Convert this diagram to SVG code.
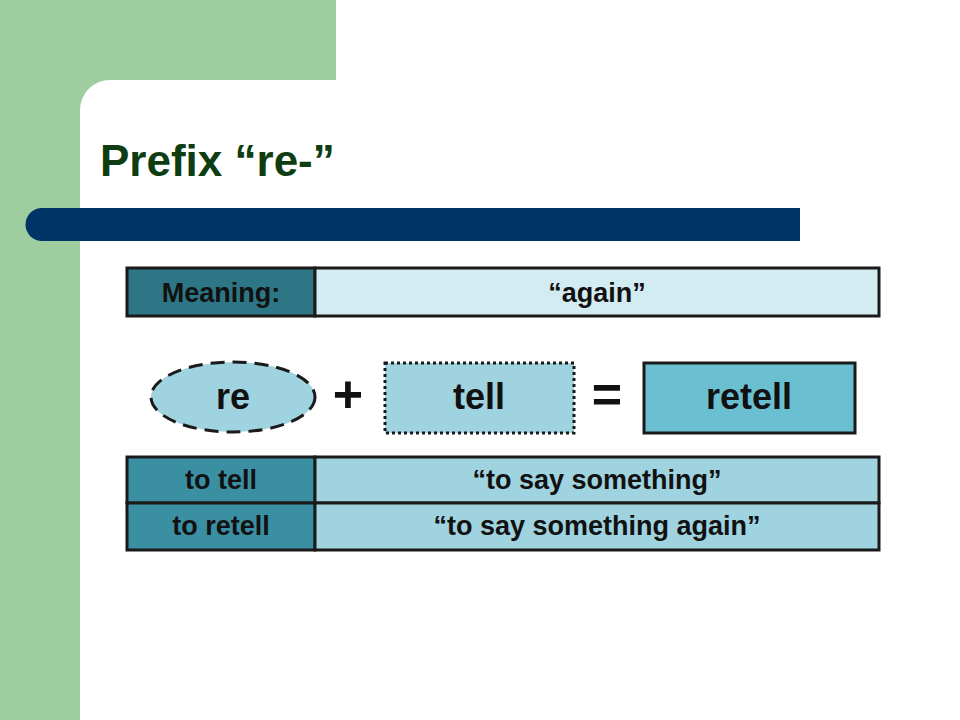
<svg xmlns="http://www.w3.org/2000/svg" width="960" height="720" viewBox="0 0 960 720">
<style>
.t{font-family:"Liberation Sans Narrow","Liberation Sans",Arial,sans-serif;font-weight:bold;fill:#111;text-anchor:middle}
.b{stroke:#1a1a1a;stroke-width:3}
</style>
<rect width="960" height="720" fill="#fff"/>
<g id="background">
<rect x="0" y="0" width="80" height="720" fill="#9ecda0"/>
<rect x="0" y="0" width="336" height="80" fill="#9ecda0"/>
<path d="M80 80 H110 A30 30 0 0 0 80 110 Z" fill="#9ecda0"/>
<path d="M42 208 H800 V241 H42 A16.5 16.5 0 0 1 42 208 Z" fill="#003366"/>
<text x="100" y="176" style="font-family:'Liberation Sans',Arial,sans-serif;font-weight:bold;font-size:44px;fill:#0f3d12">Prefix “re-”</text>
</g>
<g id="meaning">
<rect x="127" y="268" width="188" height="48" fill="#2e7685" class="b"/>
<rect x="315" y="268" width="564" height="48" fill="#d3ecf1" class="b"/>
<text class="t" x="221" y="302" font-size="27">Meaning:</text>
<text class="t" x="597" y="302" font-size="27" font-weight="normal">“again”</text>
</g>
<g id="re">
<ellipse cx="233" cy="397" rx="82" ry="35" fill="#9fd3df" stroke="#1a1a1a" stroke-width="3" stroke-dasharray="14 8"/>
<text class="t" x="233" y="409" font-size="36">re</text>
</g>
<g id="plus"><text class="t" x="348" y="412" font-size="52" font-weight="normal">+</text></g>
<g id="tell">
<rect x="385" y="363" width="189" height="70" fill="#9fd3df" stroke="#1a1a1a" stroke-width="3" stroke-dasharray="3 3"/>
<text class="t" x="479" y="409" font-size="36">tell</text>
</g>
<g id="equals"><text class="t" x="607" y="412" font-size="52" font-weight="normal">=</text></g>
<g id="retell">
<rect x="644" y="363" width="211" height="70" fill="#6ac0d1" class="b"/>
<text class="t" x="749" y="409" font-size="36">retell</text>
</g>
<g id="table">
<rect x="127" y="457" width="188" height="46" fill="#3b8fa3" class="b"/>
<rect x="315" y="457" width="564" height="46" fill="#9fd3df" class="b"/>
<rect x="127" y="503" width="188" height="47" fill="#3b8fa3" class="b"/>
<rect x="315" y="503" width="564" height="47" fill="#9fd3df" class="b"/>
<text class="t" x="221" y="489" font-size="27">to tell</text>
<text class="t" x="597" y="489" font-size="27">“to say something”</text>
<text class="t" x="221" y="535" font-size="27">to retell</text>
<text class="t" x="597" y="535" font-size="27">“to say something again”</text>
</g>
</svg>
